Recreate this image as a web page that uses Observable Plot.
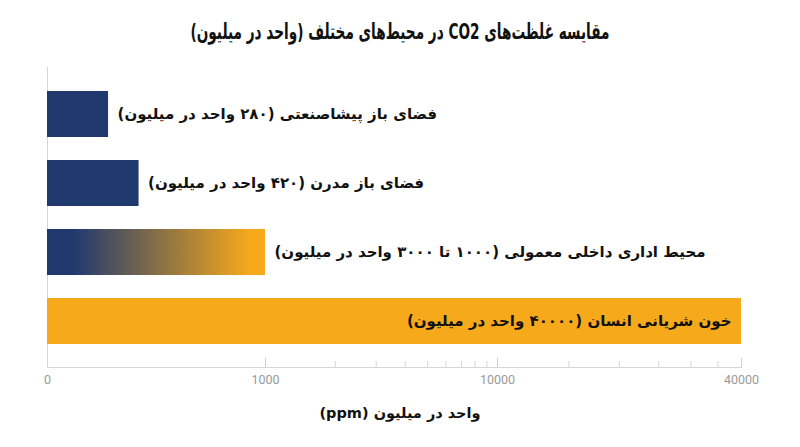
<!DOCTYPE html>
<html>
<head>
<meta charset="utf-8">
<script src="https://cdn.jsdelivr.net/npm/d3@7"></script>
<script src="https://cdn.jsdelivr.net/npm/@observablehq/plot@0.6"></script>
<style>
  body { margin: 0; background: #fff; width: 800px; }
  #title { height: 62px; line-height: 64px; text-align: center; font-family: "DejaVu Sans", sans-serif; font-weight: bold; font-size: 22px; color: #111; }
  #title span { display: inline-block; transform: scaleX(0.62); white-space: nowrap; }
  #xlabel { height: 34px; line-height: 32px; text-align: center; font-family: "DejaVu Sans", sans-serif; font-weight: bold; font-size: 14.5px; color: #111; }
  svg { display: block; }
</style>
</head>
<body>
<div id="title" dir="rtl"><span>مقایسه غلظت‌های CO2 در محیط‌های مختلف (واحد در میلیون)</span></div>
<div id="chart"></div>
<div id="xlabel" dir="rtl">واحد در میلیون (ppm)</div>
<script>
// ---- data ----
const categories = [
  "فضای باز پیشاصنعتی",
  "فضای باز مدرن",
  "محیط اداری داخلی معمولی",
  "خون شریانی انسان"
];
const values = [280, 420, 1000, 40000];
const labels = [
  "فضای باز پیشاصنعتی (۲۸۰ واحد در میلیون)",
  "فضای باز مدرن (۴۲۰ واحد در میلیون)",
  "محیط اداری داخلی معمولی (۱۰۰۰ تا ۳۰۰۰ واحد در میلیون)",
  "خون شریانی انسان (۴۰۰۰۰ واحد در میلیون)"
];
const xTicks = [0, 1000, 10000, 40000];
const minorTicks = [2000, 3000, 4000, 5000, 6000, 7000, 8000, 9000, 15000, 20000, 25000, 30000, 35000];

// ---- styles ----
const NAVY = "#203a6f", ORANGE = "#f6a91b";
const barFill = [NAVY, NAVY, "url(#co2grad)", ORANGE];

const table = categories.map((c, i) => ({category: c, value: values[i], label: labels[i], fill: barFill[i]}));
const maxV = d3.max(values);

// segmented axis: linear 0–1000, log 1000–10000, log 10000–40000
function seg(v) {
  if (v <= 1000) return v / 1000;
  if (v <= 10000) return 1 + Math.log10(v / 1000);
  return 2 + Math.log10(v / 10000) / Math.log10(4);
}

const W = 800, H = 335;
const chart = Plot.plot({
  width: W,
  height: H,
  marginTop: 5,
  marginBottom: 30,
  marginLeft: 47,
  marginRight: 59,
  x: {type: "linear", transform: seg, domain: [0, 1, 2, 3], range: [47, 265, 497, 741], axis: null, label: null},
  y: {domain: categories, padding: 0.34, axis: null, label: null},
  color: {type: "identity"},
  marks: [
    Plot.frame({anchor: "bottom", stroke: "#d6d6d6"}),
    Plot.ruleX([0], {stroke: "#d6d6d6"}),
    Plot.axisX(xTicks.slice(1), {tickSize: -9, tickFormat: () => "", stroke: "#cfcfcf", label: null}),
    Plot.axisX(minorTicks, {tickSize: -6, tickFormat: () => "", stroke: "#d6d6d6", label: null}),
    Plot.axisX(xTicks, {tickSize: 0, tickPadding: 8, tickFormat: d => String(d), fill: "#9a9a9a", fontSize: 12.5, fontFamily: "Roboto, sans-serif", label: null}),
    Plot.barX(table, {x: "value", y: "category", fill: "fill"}),
    Plot.text(table.filter(d => d.value < maxV), {
      x: "value", y: "category", text: d => d.label + "\u200F",
      textAnchor: "start", dx: 9, fill: "#111", fontSize: 15, fontWeight: "bold",
      fontFamily: "DejaVu Sans, sans-serif"
    }),
    Plot.text(table.filter(d => d.value === maxV), {
      x: "value", y: "category", text: d => d.label + "\u200F",
      textAnchor: "end", dx: -10, fill: "#111", fontSize: 15, fontWeight: "bold",
      fontFamily: "DejaVu Sans, sans-serif"
    })
  ]
});

// gradient for the indoor-office bar
const svg = d3.select(chart);
const grad = svg.insert("defs", ":first-child").append("linearGradient")
  .attr("id", "co2grad").attr("x1", "0").attr("x2", "1").attr("y1", "0").attr("y2", "0");
grad.append("stop").attr("offset", "0.12").attr("stop-color", NAVY);
grad.append("stop").attr("offset", "0.93").attr("stop-color", ORANGE);

document.getElementById("chart").appendChild(chart);
</script>
</body>
</html>
